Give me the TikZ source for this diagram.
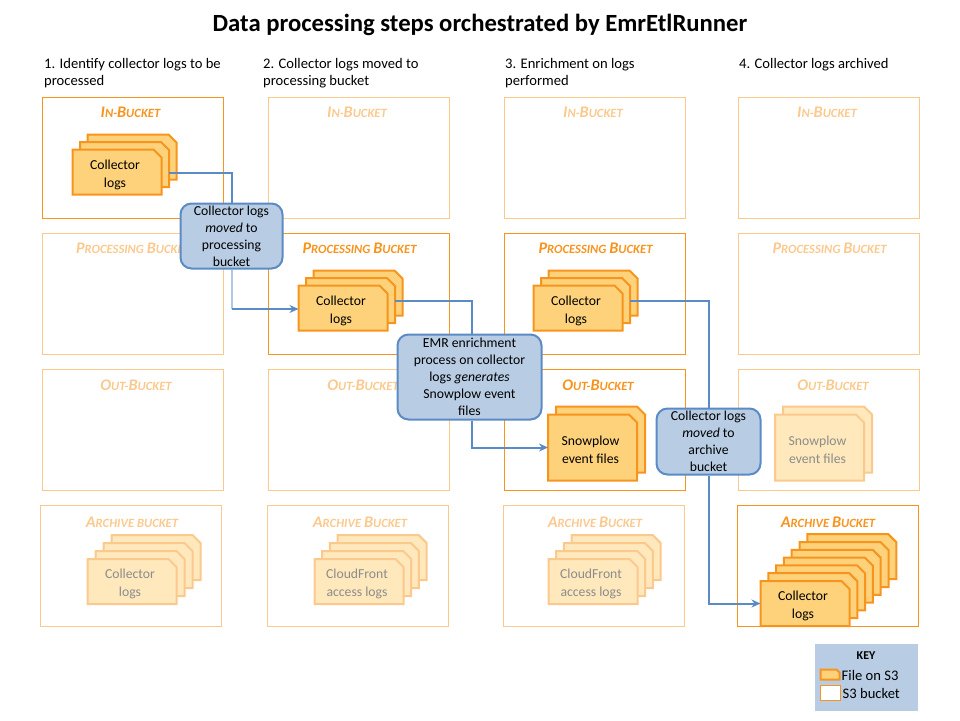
\documentclass[tikz,border=0pt]{standalone}
\usepackage{fontspec}
\usepackage{tikz}
\usetikzlibrary{backgrounds,arrows.meta}
\setmainfont{Carlito}
\definecolor{bucketorange}{HTML}{F7941E}
\definecolor{paleorange}{HTML}{FBC98E}
\definecolor{filefill}{HTML}{FDD27A}
\definecolor{palefill}{HTML}{FEE8BC}
\definecolor{paletext}{HTML}{8C8C8C}
\definecolor{flowblue}{HTML}{5B8BC5}
\definecolor{lightflow}{HTML}{AFC8E6}
\definecolor{calloutfill}{HTML}{B8CCE4}
% rectangle with one cut corner
\def\filechamfer{8pt}
\makeatletter
\pgfdeclareshape{filecard}{
  \inheritsavedanchors[from=rectangle]
  \inheritanchorborder[from=rectangle]
  \inheritanchor[from=rectangle]{center}
  \inheritanchor[from=rectangle]{north}
  \inheritanchor[from=rectangle]{south}
  \inheritanchor[from=rectangle]{east}
  \inheritanchor[from=rectangle]{west}
  \backgroundpath{
    \southwest \pgf@xa=\pgf@x \pgf@ya=\pgf@y
    \northeast \pgf@xb=\pgf@x \pgf@yb=\pgf@y
    \pgfpathmoveto{\pgfqpoint{\pgf@xa}{\pgf@ya}}
    \pgfpathlineto{\pgfqpoint{\pgf@xa}{\pgf@yb}}
    \pgfpathlineto{\pgfpoint{\pgf@xb-\filechamfer}{\pgf@yb}}
    \pgfpathlineto{\pgfpoint{\pgf@xb}{\pgf@yb-\filechamfer}}
    \pgfpathlineto{\pgfqpoint{\pgf@xb}{\pgf@ya}}
    \pgfpathclose
  }
}
\makeatother
\newcommand{\cp}[2]{{\fontsize{16.2}{17}\selectfont #1}#2}
\newcommand{\filelabel}[2]{\rule{0pt}{15pt}#1\kern4pt\\#2\kern4pt}
\begin{document}
\begin{tikzpicture}[
    x=1pt, y=-1pt,
    every node/.style={font=\fontsize{13.7}{17}\selectfont, align=center, inner sep=0pt},
    bucket/.style={draw=bucketorange, line width=1pt, minimum width=181pt, minimum height=121pt},
    palebucket/.style={bucket, draw=paleorange},
    buckettitle/.style={font=\fontsize{12.6}{17}\selectfont\bfseries\itshape, text=bucketorange},
    paletitle/.style={buckettitle, text=paleorange},
    file/.style={filecard, outer sep=0pt, draw=bucketorange, fill=filefill, line width=2pt,
        font=\fontsize{13.7}{18}\selectfont},
    logfile/.style={file, minimum width=89pt, minimum height=45pt},
    bigfile/.style={file, minimum width=89pt, minimum height=66pt},
    palelog/.style={logfile, draw=paleorange, fill=palefill, text=paletext},
    palebig/.style={bigfile, draw=paleorange, fill=palefill, text=paletext},
    heading/.style={anchor=north west, align=left, font=\fontsize{14.6}{17}\selectfont},
    callout/.style={rounded corners=11pt, draw=flowblue, fill=calloutfill, line width=2pt},
    flow/.style={flowblue, line width=2pt, >={Stealth[length=9pt,width=8pt]}},
    paleflow/.style={flow, lightflow},
    keytext/.style={font=\fontsize{14.6}{17}\selectfont}
]
\useasboundingbox (0,0) rectangle (960,720);

\node[font=\fontsize{24.7}{28}\selectfont\bfseries] (title) at (480,25) {Data processing steps orchestrated by EmrEtlRunner};
\node[heading] (step1) at (44,58.5) {1. Identify collector logs to be\\processed};
\node[heading] (step2) at (263,58.5) {2. Collector logs moved to\\processing bucket};
\node[heading] (step3) at (505,58.5) {3. Enrichment on logs\\performed};
\node[heading] (step4) at (739,58.5) {4. Collector logs archived};

\begin{pgfonlayer}{background}
% buckets
\node[bucket] (inA) at (132.5,157.5) {};
\node[palebucket] (procA) at (132.5,293.5) {};
\node[palebucket] (outA) at (132.5,429.5) {};
\node[palebucket] (archA) at (131,566) {};
\node[palebucket] (inB) at (358.5,157.5) {};
\node[bucket] (procB) at (358.5,293.5) {};
\node[palebucket] (outB) at (358.5,429.5) {};
\node[palebucket] (archB) at (358,566) {};
\node[palebucket] (inC) at (594.5,157.5) {};
\node[bucket] (procC) at (594.5,293.5) {};
\node[bucket] (outC) at (594.5,429.5) {};
\node[palebucket] (archC) at (594,566) {};
\node[palebucket] (inD) at (829,157.5) {};
\node[palebucket] (procD) at (829,293.5) {};
\node[palebucket] (outD) at (829,429.5) {};
\node[bucket] (archD) at (828,566) {};

\node[buckettitle] (inAt) at (130.5,112.5) {\cp{I}{N}-\cp{B}{UCKET}};
\node[paletitle] (procAt) at (133,248.5) {\cp{P}{ROCESSING} \cp{B}{UCKET}};
\node[paletitle] (outAt) at (136,385.5) {\cp{O}{UT}-\cp{B}{UCKET}};
\node[paletitle] (archAt) at (132,522.5) {\cp{A}{RCHIVE BUCKET}};
\node[paletitle] (inBt) at (357,112.5) {\cp{I}{N}-\cp{B}{UCKET}};
\node[buckettitle] (procBt) at (359.5,248.5) {\cp{P}{ROCESSING} \cp{B}{UCKET}};
\node[paletitle] (outBt) at (363,385.5) {\cp{O}{UT}-\cp{B}{UCKET}};
\node[paletitle] (archBt) at (360,522.5) {\cp{A}{RCHIVE} \cp{B}{UCKET}};
\node[paletitle] (inCt) at (593,112.5) {\cp{I}{N}-\cp{B}{UCKET}};
\node[buckettitle] (procCt) at (595.5,248.5) {\cp{P}{ROCESSING} \cp{B}{UCKET}};
\node[buckettitle] (outCt) at (598,385.5) {\cp{O}{UT}-\cp{B}{UCKET}};
\node[paletitle] (archCt) at (595,522.5) {\cp{A}{RCHIVE} \cp{B}{UCKET}};
\node[paletitle] (inDt) at (827,112.5) {\cp{I}{N}-\cp{B}{UCKET}};
\node[paletitle] (procDt) at (829.5,248.5) {\cp{P}{ROCESSING} \cp{B}{UCKET}};
\node[paletitle] (outDt) at (833,385.5) {\cp{O}{UT}-\cp{B}{UCKET}};
\node[buckettitle] (archDt) at (828,522.5) {\cp{A}{RCHIVE} \cp{B}{UCKET}};

% files, back to front
\foreach \i in {2,1} \node[logfile] (logA\i) at ({117+\i*7.5},{172-\i*7.5}) {};
\node[logfile] (logA0) at (117,172) {\filelabel{Collector}{logs}};
\foreach \i in {2,1} \node[logfile] (logB\i) at ({343+\i*7.5},{308-\i*7.5}) {};
\node[logfile] (logB0) at (343,308) {\filelabel{Collector}{logs}};
\foreach \i in {2,1} \node[logfile] (logC\i) at ({578+\i*7.5},{308-\i*7.5}) {};
\node[logfile] (logC0) at (578,308) {\filelabel{Collector}{logs}};
\node[bigfile] (eventC1) at (600.5,439.5) {};
\node[bigfile] (eventC0) at (592.5,447.5) {\filelabel{Snowplow}{event files}};
\node[palebig] (eventD1) at (827.5,439.5) {};
\node[palebig] (eventD0) at (819.5,447.5) {\filelabel{Snowplow}{event files}};
\foreach \i in {3,2,1} \node[palelog] (archLogA\i) at ({132+\i*8},{581.5-\i*8}) {};
\node[palelog] (archLogA0) at (132,581.5) {\filelabel{Collector}{logs}};
\foreach \i in {3,2,1} \node[palelog] (archLogB\i) at ({359+\i*7.7},{581.5-\i*8}) {};
\node[palelog] (archLogB0) at (359,581.5) {\filelabel{CloudFront}{access logs}};
\foreach \i in {3,2,1} \node[palelog] (archLogC\i) at ({593+\i*7.7},{581.5-\i*8}) {};
\node[palelog] (archLogC0) at (593,581.5) {\filelabel{CloudFront}{access logs}};
\foreach \i in {6,5,4,3,2,1} \node[logfile] (archLogD\i) at ({805+\i*7.8},{603.5-\i*7.8}) {};
\node[logfile] (archLogD0) at (805,603.5) {\filelabel{Collector}{logs}};
\end{pgfonlayer}

% steps between the columns
\node[callout, minimum width=102pt, minimum height=65pt] (moveA) at (231.5,236) {Collector logs\\\textit{moved} to\\processing\\bucket};
\node[callout, minimum width=144pt, minimum height=85pt] (enrich) at (469.5,377) {EMR enrichment\\process on collector\\logs \textit{generates}\\Snowplow event\\files};
\node[callout, minimum width=104pt, minimum height=66pt] (moveB) at (708.5,441.5) {Collector logs\\\textit{moved} to\\archive\\bucket};

\begin{scope}[on background layer]
\coordinate (bendA) at (moveA.south |- logB0.west);
\draw[flow] ([yshift=-8pt]logA1.east) -| (moveA.north);
\draw[paleflow] (moveA.south) -- ([yshift=-1pt]bendA);
\draw[flow, ->] ([yshift=-1pt]bendA) -- ([yshift=-1pt]logB0.west);
\draw[flow] (logB1.east) -| ([xshift=2pt]enrich.north);
\draw[flow, ->] ([xshift=2pt]enrich.south) |- (eventC0.west);
\draw[flow] (logC1.east) -| (moveB.north);
\draw[flow, ->] (moveB.south) |- (archLogD0.west);
\end{scope}

% key
\node[fill=calloutfill, minimum width=103pt, minimum height=67pt] (keybox) at (866.5,677.5) {};
\node[font=\fontsize{12}{13}\selectfont\bfseries] (keytitle) at (866,656) {KEY};
\def\filechamfer{3pt}
\node[file, minimum width=19pt, minimum height=10pt] (keyfile) at (830,674.5) {};
\node[draw=bucketorange, fill=white, line width=1pt, minimum width=20pt, minimum height=15pt] (keybucket) at (830,693) {};
\node[right=2pt, keytext] (keyfilet) at ([yshift=-1pt]keyfile.east) {File on S3};
\node[right=2pt, keytext] (keybuckett) at (keybucket.east) {S3 bucket};
\end{tikzpicture}
\end{document}
